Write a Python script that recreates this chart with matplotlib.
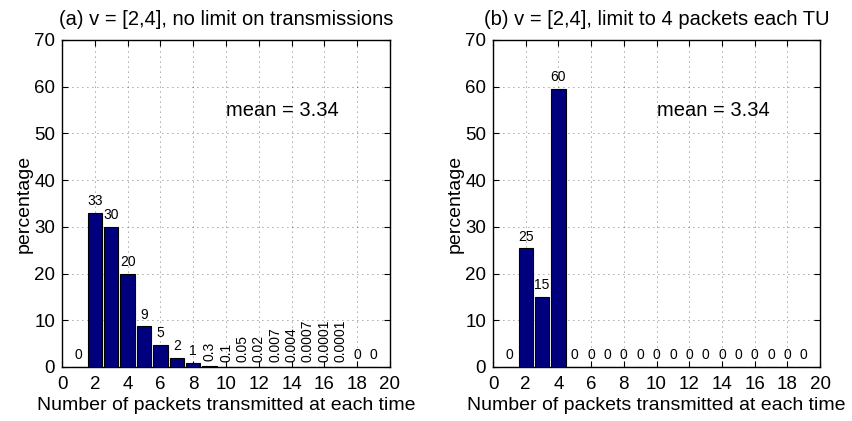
import matplotlib
matplotlib.use("Agg")
import matplotlib.pyplot as plt
import numpy as np

plt.rcParams['font.family'] = ['Liberation Sans', 'DejaVu Sans']

x = list(range(1, 20))
vals_a = [0, 33.0, 30.0, 20.0, 8.7, 4.8, 2.0, 0.9, 0.3, 0.1, 0.05, 0.02, 0.007,
          0.004, 0.0007, 0.0001, 0.0001, 0, 0]
labels_a = ['0', '33', '30', '20', '9', '5', '2', '1', '0.3', '0.1', '0.05', '0.02',
            '0.007', '0.004', '0.0007', '0.0001', '0.0001', '0', '0']
vals_b = [0, 25.4, 15.0, 59.6] + [0] * 15
labels_b = ['0', '25', '15', '60'] + ['0'] * 15

titles = ['(a) v = [2,4], no limit on transmissions',
          '(b) v = [2,4], limit to 4 packets each TU']
mean_text = 'mean = 3.34'
xlabel = 'Number of packets transmitted at each time'
ylabel = 'percentage'

fig = plt.figure(figsize=(8.53, 4.21), dpi=100)
positions = [[0.0727, 0.1283, 0.3845, 0.7767], [0.578, 0.1283, 0.3834, 0.7767]]
bar_color = '#00007F'

for pos, vals, labels, title in zip(positions, [vals_a, vals_b], [labels_a, labels_b], titles):
    ax = fig.add_axes(pos)
    ax.bar(x, vals, width=0.87, color=bar_color, edgecolor='black', linewidth=0.8, zorder=3)
    ax.set_xlim(0, 20)
    ax.set_ylim(0, 70)
    ax.set_xticks(np.arange(0, 21, 2))
    ax.set_yticks(np.arange(0, 71, 10))
    ax.grid(True, linestyle=(0, (1, 5)), color='black', linewidth=0.6, alpha=0.7)
    ax.set_axisbelow(True)
    ax.tick_params(direction='in', labelsize=13.5, length=4, top=True, right=True)
    ax.tick_params(axis='x', pad=6.5)
    ax.tick_params(axis='y', pad=5)
    for sp in ax.spines.values():
        sp.set_linewidth(1.0)
    ax.set_title(title, fontsize=14.5, pad=11)
    ax.set_xlabel(xlabel, fontsize=14, labelpad=3)
    ax.set_ylabel(ylabel, fontsize=14, labelpad=1)
    ax.text(10, 55, mean_text, fontsize=14.5, ha='left', va='center')
    for xi, v, lab in zip(x, vals, labels):
        if len(lab) >= 3:
            ax.text(xi, v + 1.0, lab, fontsize=10, rotation=90, ha='center', va='bottom')
        else:
            ax.text(xi, v + 1.0, lab, fontsize=10, ha='center', va='bottom')

fig.savefig('out.png', dpi=100)
